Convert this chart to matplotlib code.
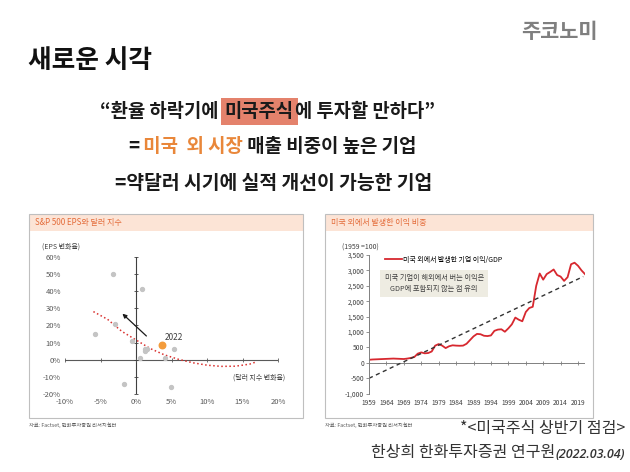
import matplotlib
matplotlib.use("Agg")
import matplotlib.pyplot as plt
from matplotlib.patches import Rectangle

plt.rcParams['font.family'] = ['Noto Sans CJK KR', 'DejaVu Sans']

# left chart: dollar index change (%) vs S&P 500 EPS change (%)
dxy_chg = [-3.3, 0.9, -3.0, -5.8, -0.5, 1.3, 1.2, 1.5, 0.6, 5.4, 4.1, -1.7, 4.9]
eps_chg = [50, 41, 21, 15, 11, 6, 5, 6.5, 1, 6.5, 1, -14, -16]
dxy_2022 = [3.7]
eps_2022 = [8.5]
trend_x = [-6, -4, -2, 0, 2, 4, 6, 8, 10, 12, 14, 16, 17]
trend_y = [28, 23.5, 16.5, 11.5, 6.5, 2.8, 0.2, -1.8, -3.2, -3.9, -3.8, -2.6, -1.2]
x_ticks_l = [-10, -5, 0, 5, 10, 15, 20]
y_ticks_l = [-20, -10, 0, 10, 20, 30, 40, 50, 60]

# right chart: overseas corporate profit / GDP (1959 = 100)
years = list(range(1959, 2022))
profit_gdp = [100, 110, 115, 120, 125, 130, 135, 140, 135, 130,
              125, 140, 160, 190, 300, 340, 310, 320, 370, 560,
              610, 560, 480, 540, 570, 560, 555, 560, 620, 740,
              860, 940, 930, 880, 870, 890, 1040, 1080, 1090, 1010,
              1120, 1250, 1470, 1400, 1350, 1650, 1780, 1820, 2500, 2900,
              2700, 2880, 2950, 3030, 2850, 2800, 2660, 2780, 3200, 3250,
              3150, 3000, 2880]
trend_years = [1959, 2020.5]
trend_vals = [-500, 2800]
x_ticks_r = list(range(1959, 2020, 5))
y_ticks_r = list(range(-1000, 3501, 500))

fig = plt.figure(figsize=(6.3, 4.72), dpi=100)
bg = fig.add_axes([0, 0, 1, 1])
bg.set_xlim(0, 630)
bg.set_ylim(472, 0)
bg.axis('off')

TXT = '#1A1A1A'


def rich_line(x, y, pieces, size):
    # pieces: (text, colour, highlight colour, gap before in points)
    t = None
    for s, color, hl, gap in pieces:
        kw = dict(fontsize=size, fontweight='bold', color=color, ha='left', va='bottom')
        if hl:
            kw['bbox'] = dict(boxstyle='square,pad=0.2', fc=hl, ec='none')
        if t is None:
            t = bg.text(x, y, s, **kw)
        else:
            t = bg.annotate(s, xy=(1, 0), xycoords=t, xytext=(gap, 0),
                            textcoords='offset points', **kw)
    return t


# headline texts
bg.text(598, 32, '주코노미', fontsize=15, fontweight='bold', color='#7F7F7F', ha='right', va='center')
bg.text(28, 60, '새로운 시각', fontsize=18.5, fontweight='bold', color='#111111', va='center')
rich_line(100, 121, [('“환율 하락기에', TXT, None, 0), ('미국주식', TXT, '#E4826C', 4.5),
                     ('에 투자할 만하다”', TXT, None, 0.8)], 13.5)
rich_line(128, 156, [('=', TXT, None, 0), (' 미국  외 시장', '#E9873A', None, 0),
                     (' 매출 비중이 높은 기업', TXT, None, 0)], 13.6)
rich_line(115, 193, [('=약달러 시기에 실적 개선이 가능한 기업', TXT, None, 0)], 13.9)

# chart panels
for x0, w, title in [(29, 274, 'S&P 500 EPS와 달러 지수'), (325, 268, '미국 외에서 발생한 이익 비중')]:
    bg.add_patch(Rectangle((x0 + 0.5, 214.5), w - 1, 16, fc='#FCE4D6', ec='none'))
    bg.add_patch(Rectangle((x0, 214), w, 204, fill=False, ec='#BFBFBF', lw=0.8))
    bg.text(x0 + 6, 222.5, title, fontsize=5.8, color='#E46C3A', va='center')
    bg.text(x0, 425, '자료: Factset, 한화투자증권 리서치센터', fontsize=3.8, color='#595959', va='center')

# left scatter chart
ax1 = fig.add_axes([65 / 630, 1 - 394 / 472, 213 / 630, 137.3 / 472])
ax1.set_facecolor('none')
ax1.set_xlim(-10, 20)
ax1.set_ylim(-20, 60)
for sp in ax1.spines.values():
    sp.set_visible(False)
ax1.set_xticks(x_ticks_l)
ax1.set_xticklabels([f'{v}%' for v in x_ticks_l])
ax1.set_yticks(y_ticks_l)
ax1.set_yticklabels([f'{v}%' for v in y_ticks_l])
ax1.tick_params(length=0, labelsize=5.5, labelcolor='#595959', pad=3)
ax1.axhline(0, color='#595959', lw=0.8)
ax1.axvline(0, color='#404040', lw=0.8)
ax1.plot(x_ticks_l, [0] * len(x_ticks_l), ls='none', marker='|', ms=2.5, mew=0.6, color='#595959')
ax1.plot([0] * len(y_ticks_l), y_ticks_l, ls='none', marker='_', ms=2.5, mew=0.6, color='#404040')
ax1.scatter(dxy_chg, eps_chg, s=8, color='#C4C4C4', zorder=3)
ax1.plot(trend_x, trend_y, ls=':', color='#D9302E', lw=1.1, zorder=2)
ax1.scatter(dxy_2022, eps_2022, s=22, color='#F39C3C', zorder=4)
ax1.annotate('', xy=(-2.2, 27.9), xytext=(1.75, 12.7),
             arrowprops=dict(arrowstyle='-|>', color='#1A1A1A', lw=0.9, mutation_scale=6))
ax1.text(4.1, 12.9, '2022', fontsize=6, color='#404040', va='center')
ax1.text(-13.2, 65.7, '(EPS 변화율)', fontsize=5, color='#404040', va='center', clip_on=False)
ax1.text(13.7, -10.3, '(달러 지수 변화율)', fontsize=5, color='#404040', va='center')

# right line chart
ax2 = fig.add_axes([369 / 630, 1 - 393.7 / 472, 216 / 630, 138.7 / 472])
ax2.set_facecolor('none')
ax2.set_xlim(1959, 2021)
ax2.set_ylim(-1000, 3500)
for k in ['top', 'right', 'bottom']:
    ax2.spines[k].set_visible(False)
ax2.spines['left'].set_color('#808080')
ax2.spines['left'].set_linewidth(0.7)
ax2.set_xticks(x_ticks_r)
ax2.set_yticks(y_ticks_r)
ax2.set_yticklabels([f'{v:,}' for v in y_ticks_r])
ax2.tick_params(axis='y', length=2, width=0.6, color='#808080', labelsize=4.8, labelcolor='#404040', pad=1.5)
ax2.tick_params(axis='x', length=0, labelsize=4.8, labelcolor='#404040', pad=4)
ax2.axhline(0, color='#808080', lw=0.7)
ax2.plot(x_ticks_r, [0] * len(x_ticks_r), ls='none', marker='|', ms=2.5, mew=0.6, color='#808080')
ax2.plot(years, profit_gdp, color='#D7282F', lw=1.3, label='미국 외에서 발생한 기업 이익/GDP')
ax2.plot(trend_years, trend_vals, ls=(0, (3, 2.5)), color='#333333', lw=1)
ax2.legend(loc='upper left', bbox_to_anchor=(0.074, 0.995), frameon=False, fontsize=5,
           handlelength=2.4, handletextpad=0.2, borderpad=0, borderaxespad=0)
ax2.text(1977.7, 2576, '미국 기업이 해외에서 버는 이익은\nGDP에 포함되지 않는 점 유의',
         ha='center', va='center', fontsize=5.2, color='#404040', linespacing=1.4,
         bbox=dict(boxstyle='square,pad=0.6', fc='#EEECE2', ec='none'))
ax2.text(1951.2, 3736, '(1959 =100)', fontsize=5, color='#404040', va='center', clip_on=False)

# footer
bg.text(625, 429, '*<미국주식 상반기 점검>', fontsize=11.5, fontweight='light', color='#333333',
        ha='right', va='center')
date_t = bg.text(625, 461, '(2022.03.04)', fontsize=9, family='Open Sans', style='italic',
                 fontweight='semibold', color='#333333', ha='right', va='bottom')
bg.annotate('한상희 한화투자증권 연구원', xy=(0, 0), xycoords=date_t, fontsize=11.5, fontweight='light',
            color='#333333', ha='right', va='bottom')

fig.savefig('out.png', dpi=100, facecolor='white')
